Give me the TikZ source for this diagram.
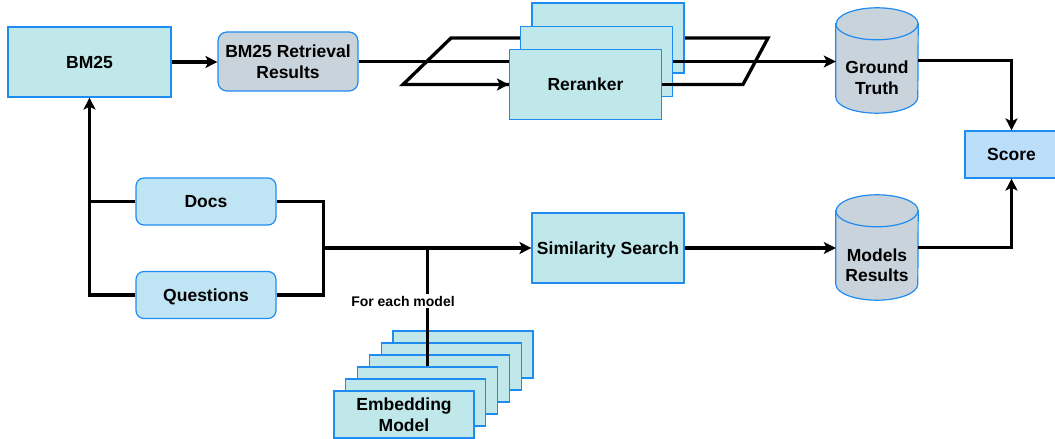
\documentclass[tikz,border=0pt]{standalone}
\usepackage{fontspec}
\setmainfont{Liberation Sans}
\usetikzlibrary{arrows.meta,calc}
\definecolor{bordblue}{RGB}{30,140,240}
\definecolor{cyanfill}{RGB}{192,232,234}
\definecolor{grayfill}{RGB}{201,211,220}
\definecolor{docfill}{RGB}{191,228,243}
\definecolor{scorefill}{RGB}{187,222,251}
\begin{document}
\begin{tikzpicture}[x=1pt,y=1pt,
  base/.style={draw=bordblue,line width=1.2pt,align=center,inner sep=0pt,
    font=\fontsize{17.5pt}{20.5pt}\selectfont\bfseries},
  oneline/.style={text depth=0pt},
  cyanbox/.style={base,fill=cyanfill},
  grayround/.style={base,fill=grayfill,rounded corners=9pt},
  docbox/.style={base,oneline,fill=docfill,rounded corners=8pt,minimum width=140pt,minimum height=47pt},
  scorebox/.style={base,oneline,fill=scorefill},
  cylbody/.style={draw=bordblue,line width=1.2pt,fill=grayfill},
  cyltext/.style={align=center,inner sep=0pt,font=\fontsize{17.5pt}{20.5pt}\selectfont\bfseries},
  smalllabel/.style={fill=white,inner sep=2pt,font=\fontsize{14pt}{16pt}\selectfont\bfseries},
  conn/.style={line width=3.3pt},
  arr/.style={conn,-{Stealth[length=12pt,width=12pt,inset=3pt]}}]
\useasboundingbox (0,0) rectangle (1055,439);

% left part
\node[cyanbox,oneline,minimum width=163pt,minimum height=70pt] (bm) at (89.5,377) {BM25};
\node[grayround,minimum width=140pt,minimum height=59pt] (rr) at (288,377.5) {BM25 Retrieval\\Results};
\node[docbox] (docs) at (206,237.5) {Docs};
\node[docbox] (qs) at (206,144) {Questions};
\node[cyanbox,oneline,minimum width=152pt,minimum height=70pt] (sim) at (608,191) {Similarity Search};

% cylinders (frames)
\node[minimum width=82pt,minimum height=105pt,inner sep=0pt] (gt) at (877,378.5) {};
\node[minimum width=82pt,minimum height=105pt,inner sep=0pt] (mr) at (877,191.5) {};
\foreach \c in {gt,mr}{
  \draw[cylbody] ($(\c.north west)+(0,-16)$) -- ($(\c.south west)+(0,16)$)
    arc[start angle=180,end angle=360,x radius=41pt,y radius=16pt]
    -- ($(\c.north east)+(0,-16)$)
    arc[start angle=0,end angle=180,x radius=41pt,y radius=16pt] -- cycle;
  \draw[draw=bordblue,line width=1.2pt] ($(\c.north west)+(0,-16)$)
    arc[start angle=180,end angle=360,x radius=41pt,y radius=16pt];
}
\node[cyltext] (gtt) at ($(gt.center)+(0,-17)$) {Ground\\Truth};
\node[cyltext] (mrt) at ($(mr.center)+(0,-17.5)$) {Models\\Results};

\node[scorebox,minimum width=93pt,minimum height=47pt] (score) at (1011.5,284.5) {Score};

% reranker area
\coordinate (p1) at (403,354.5);
\coordinate (p2) at (743,354.5);
\coordinate (p3) at (768,401);
\coordinate (p4) at (451,401);
\draw[conn] (p1) -- (p2) -- (p3) -- (p4) -- cycle;
\node[cyanbox,minimum width=152pt,minimum height=70pt] (rk2) at (608,401) {};
\draw[arr] (rr.east) -- (rr.east -| gt.west);
\node[cyanbox,minimum width=152pt,minimum height=70pt] (rk1) at (596.8,377.7) {};
\node[cyanbox,oneline,minimum width=152pt,minimum height=70pt] (rk0) at (585.5,354.5) {Reranker};
\draw[conn] (rk0.east) -- (p2);
\draw[arr] (p1) -- (rk0.west);

% embedding stack
\foreach \i in {5,4,3,2,1}{
  \node[cyanbox,minimum width=140pt,minimum height=47pt] (e\i) at ({404+11.8*\i},{24.5+12*\i}) {};
}
\node[cyanbox,minimum width=140pt,minimum height=47pt] (e0) at (404,24.5) {Embedding\\Model};

% connectors
\draw[arr] (bm.east) -- (bm.east -| rr.west);
\draw[arr] (qs.west) -| (bm.south);
\draw[conn] (docs.west) -- (docs.west -| bm.south);
\coordinate (rb) at (323,191);
\draw[conn] (docs.east) -| ($(qs.east)+(47,0)$) -- (qs.east);
\draw[arr] (rb) -- (sim.west);
\draw[conn] (e2.north) -- (e2.north |- sim.west);
\node[smalllabel] (fem) at (403,138) {For each model};
\draw[arr] (sim.east) -- (sim.east -| mr.west);
\draw[arr] (gt.east) -| (score.north);
\draw[arr] (mr.east) -| (score.south);
\end{tikzpicture}
\end{document}
